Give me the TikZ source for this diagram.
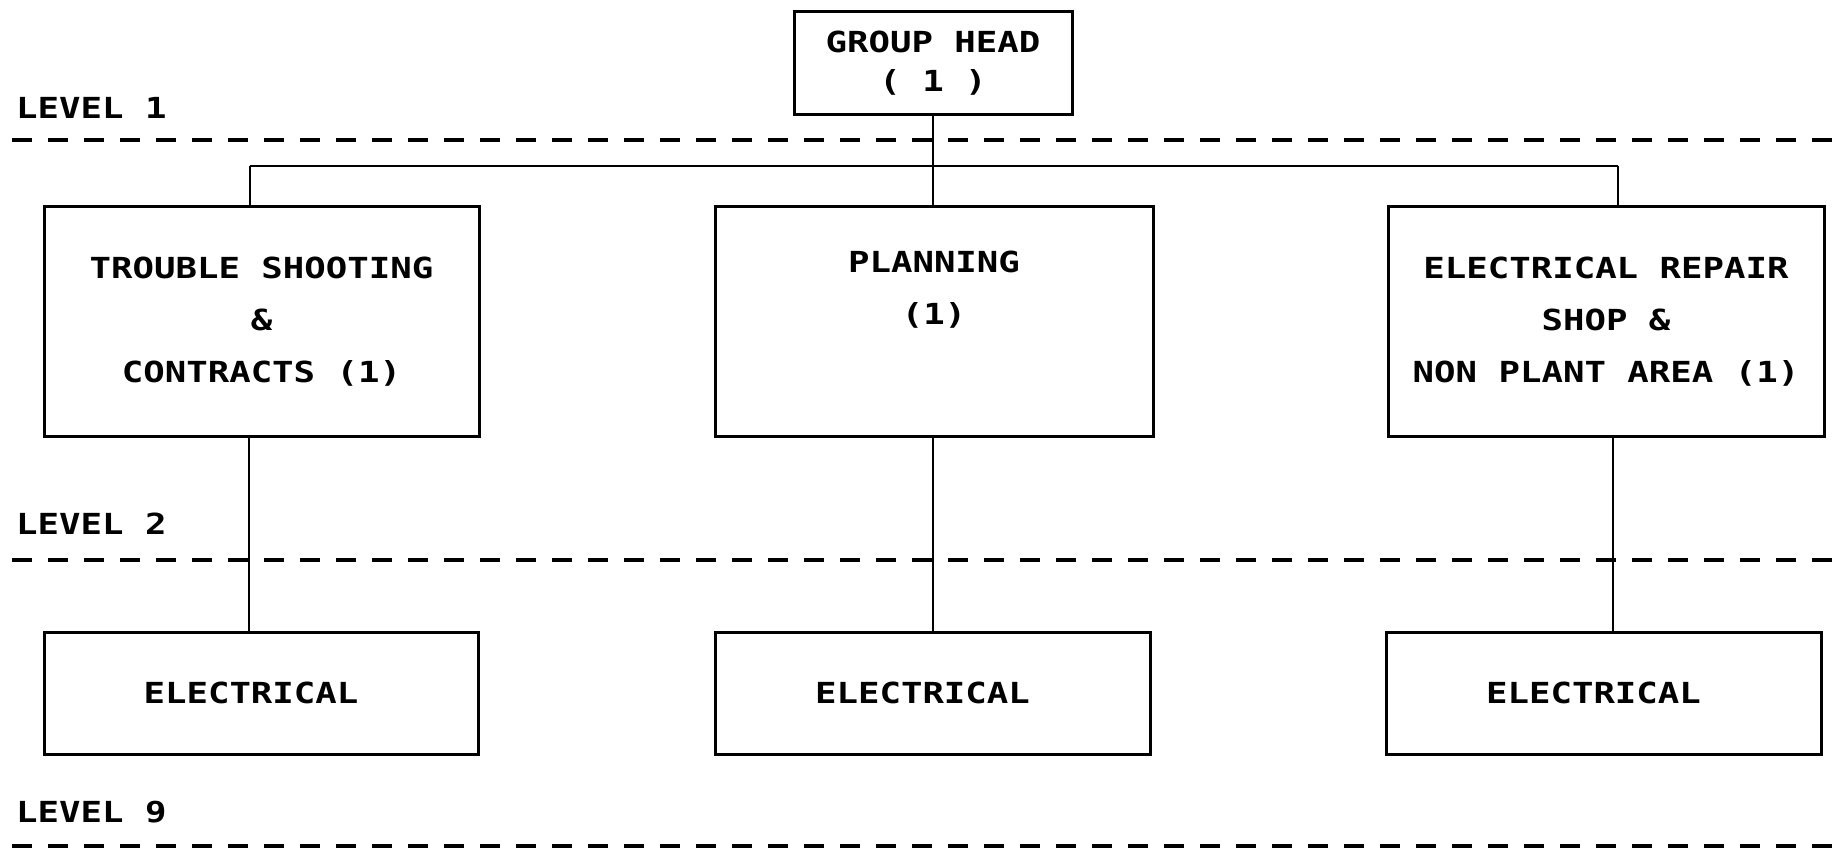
\documentclass[tikz,border=0pt]{standalone}
\usepackage{fontspec}
\newfontfamily\plotfont[FakeStretch=1.23]{DejaVu Sans Mono}
\begin{document}
\begin{tikzpicture}[x=1pt,y=-1pt,
  boxstyle/.style={draw=black,line width=3pt,inner sep=0pt,align=center,
    font=\plotfont\bfseries\fontsize{29}{52}\selectfont},
  levellabel/.style={anchor=west,inner sep=0pt,
    font=\plotfont\bfseries\fontsize{29}{35}\selectfont},
  levelline/.style={line width=4pt,dash pattern=on 20pt off 16pt},
  conn/.style={line width=2.6pt}]
\useasboundingbox[fill=white] (0,0) rectangle (1833,850);

% level separators
\coordinate (d1a) at (12,140);  \coordinate (d1b) at (1833,140);
\coordinate (d2a) at (12,560);  \coordinate (d2b) at (1833,560);
\coordinate (d3a) at (12,846);  \coordinate (d3b) at (1833,846);
\draw[levelline] (d1a) -- (d1b);
\draw[levelline] (d2a) -- (d2b);
\draw[levelline] (d3a) -- (d3b);

\node[levellabel] (lv1) at (16,108) {LEVEL 1};
\node[levellabel] (lv2) at (16,524) {LEVEL 2};
\node[levellabel] (lv9) at (16,812) {LEVEL 9};

% boxes
\node[boxstyle,minimum width=278pt,minimum height=103pt,
  font=\plotfont\bfseries\fontsize{29}{39}\selectfont] (gh) at (933,63.5) {GROUP HEAD\\( 1 )};

\node[boxstyle,minimum width=435pt,minimum height=229pt] (b1) at (261.5,321.5)
  {TROUBLE SHOOTING\\\&\\CONTRACTS (1)};
\node[boxstyle,minimum width=438pt,minimum height=229pt] (b2) at (934,321.5)
  {PLANNING\\(1)\\\strut};
\node[boxstyle,minimum width=436pt,minimum height=229pt] (b3) at (1606,321.5)
  {ELECTRICAL REPAIR\\SHOP \&\\NON PLANT AREA (1)};

\node[boxstyle,minimum width=434pt,minimum height=122pt] (e1) at (261,693)
  {ELECTRICAL\hspace*{20pt}};
\node[boxstyle,minimum width=435pt,minimum height=122pt] (e2) at (932.5,693)
  {ELECTRICAL\hspace*{20pt}};
\node[boxstyle,minimum width=435pt,minimum height=122pt] (e3) at (1603.5,693)
  {ELECTRICAL\hspace*{20pt}};

% connectors
\coordinate (busL) at (250,166);
\coordinate (busR) at (1618,166);
\coordinate (v1) at (249,0);
\coordinate (v2) at (933,0);
\coordinate (v3) at (1613,0);

\draw[conn] (gh.south) -- (gh.south |- b2.north);
\draw[conn] (busL) -- (busR);
\draw[conn] (busL) -- (busL |- b1.north);
\draw[conn] (busR) -- (busR |- b3.north);

\draw[conn] (v1 |- b1.south) -- (v1 |- e1.north);
\draw[conn] (v2 |- b2.south) -- (v2 |- e2.north);
\draw[conn] (v3 |- b3.south) -- (v3 |- e3.north);
\end{tikzpicture}
\end{document}
